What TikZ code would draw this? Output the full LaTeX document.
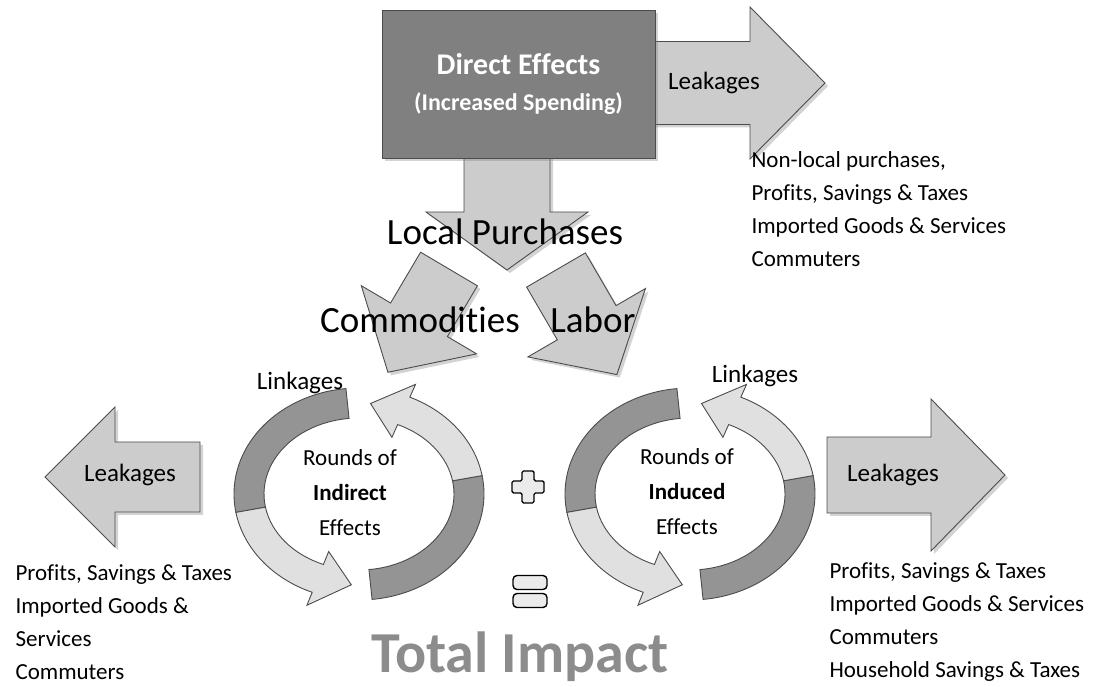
\documentclass[tikz,border=0pt]{standalone}
\usepackage{fontspec}
\setmainfont{Carlito}[Ligatures=NoCommon]
\usetikzlibrary{positioning,calc,shadows}

\tikzset{
        arrowbody/.style={fill=black!20, draw=black!70, line width=0.9pt,
                drop shadow={shadow xshift=3pt, shadow yshift=-3pt, opacity=0.35}},
        ringdark/.style={fill=black!42, draw=black!70, line width=0.9pt},
        ringlight/.style={fill=black!12, draw=black!70, line width=0.9pt},
        effectbox/.style={fill=black!50, draw=black!70, line width=0.9pt,
                minimum width=273pt, minimum height=148pt, text=white, align=center,
                font=\bfseries\fontsize{24}{36}\selectfont,
                drop shadow={shadow xshift=3pt, shadow yshift=-3pt, opacity=0.35}},
        leaktext/.style={font=\fontsize{25}{30}\selectfont},
        bigtext/.style={font=\fontsize{37}{44}\selectfont},
        roundtext/.style={align=center, font=\fontsize{23}{35}\selectfont},
        listtext/.style={align=left, anchor=west, font=\fontsize{23}{33}\selectfont},
        eqbar/.style={draw, line width=1.4pt, fill=black!8, rounded corners=4pt,
                minimum width=34pt, minimum height=14pt},
        pics/blockarrow/.style args={#1/#2/#3/#4}{code={
                \draw[arrowbody] (0,-#2) -- ({#1-#4},-#2) -- ({#1-#4},-#3) -- (#1,0)
                        -- ({#1-#4},#3) -- ({#1-#4},#2) -- (0,#2) -- cycle;
        }},
        pics/roundtrip/.style args={#1/#2/#3/#4}{code={
                \draw[ringdark] (#1:125 and 106) arc[start angle=#1, end angle=#2, x radius=125, y radius=106]
                        -- (#2:95 and 76) arc[start angle=#2, end angle=#1, x radius=95, y radius=76] -- cycle;
                \draw[ringlight] (#2:125 and 106) arc[start angle=#2, end angle=#3, x radius=125, y radius=106]
                        -- (#3:139 and 120) -- (#4:110 and 91) -- (#3:81 and 62) -- (#3:95 and 76)
                        arc[start angle=#3, end angle=#2, x radius=95, y radius=76] -- cycle;
        }},
}

\begin{document}
\begin{tikzpicture}[x=1pt,y=1pt]
        \useasboundingbox (0,0) rectangle (1107,687);

        \pic at (650,604) {blockarrow=175/41.5/76/75};
        \pic[rotate=-90] at (507,532) {blockarrow=115/43/81/58};
        \pic[rotate=-120.6] at (449,418) {blockarrow=120/33/67/61};
        \pic[rotate=-59.8] at (556,417) {blockarrow=121/34/68/60};
        \pic[rotate=180] at (200,210) {blockarrow=155/35/70/70};
        \pic at (827,212) {blockarrow=178/38/76/74};

        \pic at (359,193) {roundtrip=96/190/248/266};
        \pic at (359,193) {roundtrip=276/370/426/444};
        \pic at (690,193) {roundtrip=96/190/248/266};
        \pic at (690,193) {roundtrip=276/370/426/444};

        \node[effectbox] (direct) at (518.5,603)
                {{\fontsize{30}{36}\selectfont Direct Effects}\\(Increased Spending)};
        \node[leaktext] (leaktop) at (714,604) {Leakages};
        \node[listtext] (listtop) at (748,478)
                {Non-local purchases,\\Profits, Savings \& Taxes\\Imported Goods \& Services\\Commuters};

        \node[bigtext] (localbuy) at (505,455) {Local Purchases};
        \node[bigtext] (commod) at (420,367) {Commodities};
        \node[bigtext] (labor) at (593,367) {Labor};

        \node[leaktext] (linkleft) at (300,304) {Linkages};
        \node[leaktext] (linkright) at (755,311) {Linkages};
        \node[roundtext] (indirect) at (350,194) {Rounds of\\\textbf{Indirect}\\Effects};
        \node[roundtext] (induced) at (687,195) {Rounds of\\\textbf{Induced}\\Effects};

        \node[leaktext] (leakleft) at (130,212) {Leakages};
        \node[leaktext] (leakright) at (893,212) {Leakages};
        \node[listtext] (listleft) at (12,65)
                {Profits, Savings \& Taxes\\Imported Goods \&\\Services\\Commuters};
        \node[listtext] (listright) at (826,65)
                {Profits, Savings \& Taxes\\Imported Goods \& Services\\Commuters\\Household Savings \& Taxes};

        \coordinate (plus) at (528,200);
        \draw[line width=1.4pt, fill=black!8, rounded corners=1.5pt] (plus) ++(-6,16) -- ++(12,0) -- ++(0,-10)
                -- ++(10,0) -- ++(0,-12) -- ++(-10,0) -- ++(0,-10) -- ++(-12,0) -- ++(0,10)
                -- ++(-10,0) -- ++(0,12) -- ++(10,0) -- cycle;
        \node[eqbar] (eqtop) at (530,104.5) {};
        \node[eqbar] (eqbot) at (530,86.5) {};

        \node[text=black!45, font=\bfseries\fontsize{58}{68}\selectfont] (total) at (520,30) {Total Impact};
\end{tikzpicture}
\end{document}
